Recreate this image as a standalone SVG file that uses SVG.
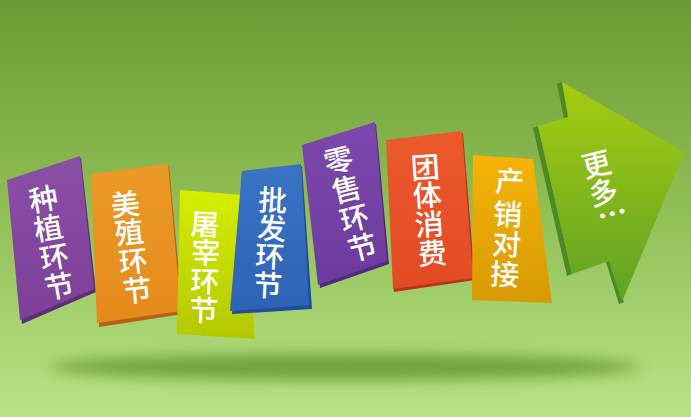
<svg xmlns="http://www.w3.org/2000/svg" width="691" height="417" viewBox="0 0 691 417">
<defs>
<linearGradient id="bg" x1="0" y1="0" x2="0" y2="1">
<stop offset="0" stop-color="#6b9a34"/>
<stop offset="0.45" stop-color="#8dbb52"/>
<stop offset="1" stop-color="#b9e386"/>
</linearGradient>
<filter id="blur" x="-20%" y="-200%" width="140%" height="500%"><feGaussianBlur stdDeviation="7"/></filter>
<linearGradient id="gPurple1" x1="0" y1="0" x2="0" y2="1"><stop offset="0" stop-color="#8b4fa6"/><stop offset="1" stop-color="#7d3f98"/></linearGradient>
<linearGradient id="gOrange" x1="0" y1="0" x2="0" y2="1"><stop offset="0" stop-color="#eb9a25"/><stop offset="1" stop-color="#e58a1c"/></linearGradient>
<linearGradient id="gLime" x1="0" y1="0" x2="0" y2="1"><stop offset="0" stop-color="#d6ee00"/><stop offset="1" stop-color="#b4c800"/></linearGradient>
<linearGradient id="gBlue" x1="0" y1="0" x2="0" y2="1"><stop offset="0" stop-color="#3b74c4"/><stop offset="1" stop-color="#2f62b4"/></linearGradient>
<linearGradient id="gPurple2" x1="0" y1="0" x2="0" y2="1"><stop offset="0" stop-color="#7d48ad"/><stop offset="1" stop-color="#6c3a9c"/></linearGradient>
<linearGradient id="gRed" x1="0" y1="0" x2="0" y2="1"><stop offset="0" stop-color="#ec5a2c"/><stop offset="1" stop-color="#e24a24"/></linearGradient>
<linearGradient id="gAmber" x1="0" y1="0" x2="0" y2="1"><stop offset="0" stop-color="#f6b406"/><stop offset="1" stop-color="#d69a04"/></linearGradient>
<linearGradient id="gArrow" x1="0" y1="0" x2="0" y2="1"><stop offset="0" stop-color="#a6cc10"/><stop offset="1" stop-color="#5fa226"/></linearGradient>
</defs>
<style>
.t{font-family:"Noto Sans CJK SC","Noto Sans CJK JP",sans-serif;font-size:29px;font-weight:500;fill:#ffffff;text-anchor:middle;dominant-baseline:central}
</style>
<rect width="691" height="417" fill="url(#bg)"/>
<ellipse cx="345" cy="367" rx="295" ry="13" fill="#5d8d2a" opacity="0.75" filter="url(#blur)"/>

<g id="card1">
<polygon points="9,182 81,158 96,292 22,324" fill="#5e2f78"/>
<polygon points="7,180 80,156 94,289 20,320" fill="url(#gPurple1)"/>
<text class="t" x="43" y="197" transform="rotate(-10 43 197)">种</text>
<text class="t" x="48" y="226" transform="rotate(-10 48 226)">植</text>
<text class="t" x="54" y="255" transform="rotate(-10 54 255)">环</text>
<text class="t" x="59" y="284" transform="rotate(-10 59 284)">节</text>
</g>

<g id="card2">
<polygon points="92,176 169,166 183,314 99,327" fill="#b8601a"/>
<polygon points="91,174 168,164 181,311 97,323" fill="url(#gOrange)"/>
<text class="t" x="125" y="202" transform="rotate(-6 125 202)">美</text>
<text class="t" x="129" y="230" transform="rotate(-6 129 230)">殖</text>
<text class="t" x="133" y="259" transform="rotate(-6 133 259)">环</text>
<text class="t" x="137" y="288" transform="rotate(-6 137 288)">节</text>
</g>

<g id="card3">
<polygon points="180,190 243,195 255,339 177,334" fill="url(#gLime)"/>
<text class="t" x="205" y="222" transform="rotate(2 205 222)">屠</text>
<text class="t" x="206" y="250" transform="rotate(2 206 250)">宰</text>
<text class="t" x="205" y="279" transform="rotate(2 205 279)">环</text>
<text class="t" x="204" y="308" transform="rotate(2 204 308)">节</text>
</g>

<g id="card4">
<polygon points="242,173 302,166 312,309 232,314" fill="#1f4f9c"/>
<polygon points="242,171 301,164 309,305 230,311" fill="url(#gBlue)"/>
<text class="t" x="273" y="198" transform="rotate(3 273 198)">批</text>
<text class="t" x="272" y="226" transform="rotate(3 272 226)">发</text>
<text class="t" x="270" y="254" transform="rotate(3 270 254)">环</text>
<text class="t" x="268" y="283" transform="rotate(3 268 283)">节</text>
</g>

<g id="card5">
<polygon points="303,147 376,124 389,264 320,288" fill="#4e2a80"/>
<polygon points="302,145 375,122 387,261 318,285" fill="url(#gPurple2)"/>
<text class="t" x="338" y="158" transform="rotate(-14 338 158)">零</text>
<text class="t" x="346" y="187" transform="rotate(-14 346 187)">售</text>
<text class="t" x="354" y="216" transform="rotate(-14 354 216)">环</text>
<text class="t" x="362" y="245" transform="rotate(-14 362 245)">节</text>
</g>

<g id="card6">
<polygon points="387,142 463,133 475,280 394,292" fill="#b93418"/>
<polygon points="386,140 462,131 473,278 393,289" fill="url(#gRed)"/>
<text class="t" x="425" y="165" transform="rotate(-4 425 165)">团</text>
<text class="t" x="427" y="193" transform="rotate(-4 427 193)">体</text>
<text class="t" x="429" y="222" transform="rotate(-4 429 222)">消</text>
<text class="t" x="432" y="251" transform="rotate(-4 432 251)">费</text>
</g>

<g id="card7">
<polygon points="473,155 533,159 552,303 472,300" fill="url(#gAmber)"/>
<text class="t" x="510" y="179" transform="rotate(3 510 179)">产</text>
<text class="t" x="508" y="212" transform="rotate(3 508 212)">销</text>
<text class="t" x="507" y="242" transform="rotate(3 507 242)">对</text>
<text class="t" x="505" y="272" transform="rotate(3 505 272)">接</text>
</g>

<g id="arrow">
<polygon points="533,128 538,126 572,274 567,276" fill="#4c8a22"/>
<polygon points="557,84 562,82 570,118 564,119" fill="#4c8a22"/>
<polygon points="606,262 611,260 624,302 619,304" fill="#4c8a22"/>
<polygon points="538,126 568,117 562,82 684,152 622,302 609,261 572,274" fill="url(#gArrow)"/>
<text class="t" x="596" y="162" transform="rotate(-14 596 162)">更</text>
<text class="t" x="603" y="190" transform="rotate(-14 603 190)">多</text>
<text class="t" x="612" y="212" transform="rotate(-14 612 212)" style="font-size:30px;font-weight:700">…</text>
</g>
</svg>
